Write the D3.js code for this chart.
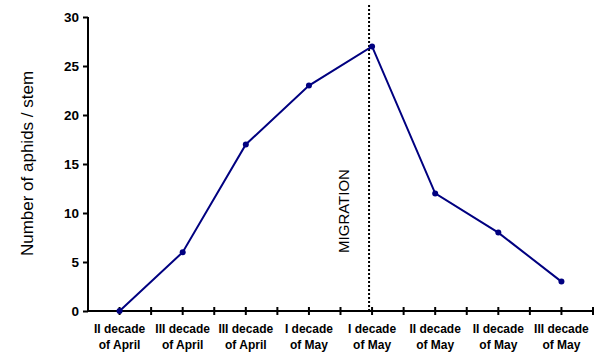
<!DOCTYPE html>
<html>
<head>
<meta charset="utf-8">
<script src="https://cdn.jsdelivr.net/npm/d3@7"></script>
<style>
  body { margin: 0; background: #fff; }
  text { font-family: Arial, "Liberation Sans", sans-serif; }
</style>
</head>
<body>
<div id="chart"></div>
<script>
// data
var decades = ["II decade", "III decade", "III decade", "I decade", "I decade", "II decade", "II decade", "III decade"];
var months = ["of April", "of April", "of April", "of May", "of May", "of May", "of May", "of May"];
var aphids = [0, 6, 17, 23, 27, 12, 8, 3];
var yTicks = [0, 5, 10, 15, 20, 25, 30];
var migrationIndex = 4;

var width = 598, height = 362;
var mLeft = 88, mRight = 593, mTop = 17, mBottom = 311;

var svg = d3.select("#chart").append("svg")
  .attr("width", width)
  .attr("height", height);

var x = d3.scaleBand()
  .domain(d3.range(aphids.length))
  .range([mLeft, mRight])
  .padding(0);

var y = d3.scaleLinear()
  .domain([0, 30])
  .range([mBottom, mTop]);

// y axis
var yAxis = svg.append("g")
  .attr("transform", "translate(" + mLeft + ",0)")
  .call(d3.axisLeft(y).tickValues(yTicks).tickSize(5).tickPadding(4));
yAxis.select(".domain").attr("stroke-width", 2).attr("d", "M0," + mTop + "V" + mBottom);
yAxis.selectAll(".tick line").attr("stroke-width", 2);
yAxis.selectAll(".tick text")
  .style("font-size", "13.5px")
  .style("font-weight", "bold")
  .attr("fill", "#000");

// x axis line with ticks at band edges and band centres
svg.append("line")
  .attr("x1", mLeft - 1).attr("x2", mRight)
  .attr("y1", mBottom).attr("y2", mBottom)
  .attr("stroke", "#000").attr("stroke-width", 2);

var tickPos = [];
for (var i = 0; i < aphids.length; i++) {
  tickPos.push(x(i));
  tickPos.push(x(i) + x.bandwidth() / 2);
}
tickPos.push(mRight);
tickPos.shift();

svg.selectAll(".xtick").data(tickPos).enter().append("line")
  .attr("class", "xtick")
  .attr("x1", d => d).attr("x2", d => d)
  .attr("y1", mBottom - 4).attr("y2", mBottom + 4)
  .attr("stroke", "#000").attr("stroke-width", 2);

// x labels
var xl = svg.selectAll(".xlab").data(aphids).enter().append("text")
  .attr("class", "xlab")
  .attr("text-anchor", "middle")
  .style("font-size", "12px")
  .style("font-weight", "bold");
xl.append("tspan")
  .attr("x", (d, i) => x(i) + x.bandwidth() / 2)
  .attr("y", 333)
  .text((d, i) => decades[i]);
xl.append("tspan")
  .attr("x", (d, i) => x(i) + x.bandwidth() / 2)
  .attr("y", 349)
  .text((d, i) => months[i]);

// y title
svg.append("text")
  .attr("transform", "translate(33," + (72 + 255) / 2 + ") rotate(-90)")
  .attr("text-anchor", "middle")
  .style("font-size", "17px")
  .text("Number of aphids / stem");

// migration line
var mx = x(migrationIndex) + x.bandwidth() / 2 - 3;
svg.append("line")
  .attr("x1", mx).attr("x2", mx)
  .attr("y1", 5).attr("y2", mBottom)
  .attr("stroke", "#000")
  .attr("stroke-width", 2)
  .attr("stroke-dasharray", "2,2");

svg.append("text")
  .attr("transform", "translate(349,211) rotate(-90)")
  .attr("text-anchor", "middle")
  .style("font-size", "15px")
  .text("MIGRATION");

// series
var line = d3.line()
  .x((d, i) => x(i) + x.bandwidth() / 2)
  .y(d => y(d));

svg.append("path")
  .datum(aphids)
  .attr("d", line)
  .attr("fill", "none")
  .attr("stroke", "#000080")
  .attr("stroke-width", 2);

svg.selectAll(".pt").data(aphids).enter().append("circle")
  .attr("class", "pt")
  .attr("cx", (d, i) => x(i) + x.bandwidth() / 2)
  .attr("cy", d => y(d))
  .attr("r", 3)
  .attr("fill", "#000080");
</script>
</body>
</html>
